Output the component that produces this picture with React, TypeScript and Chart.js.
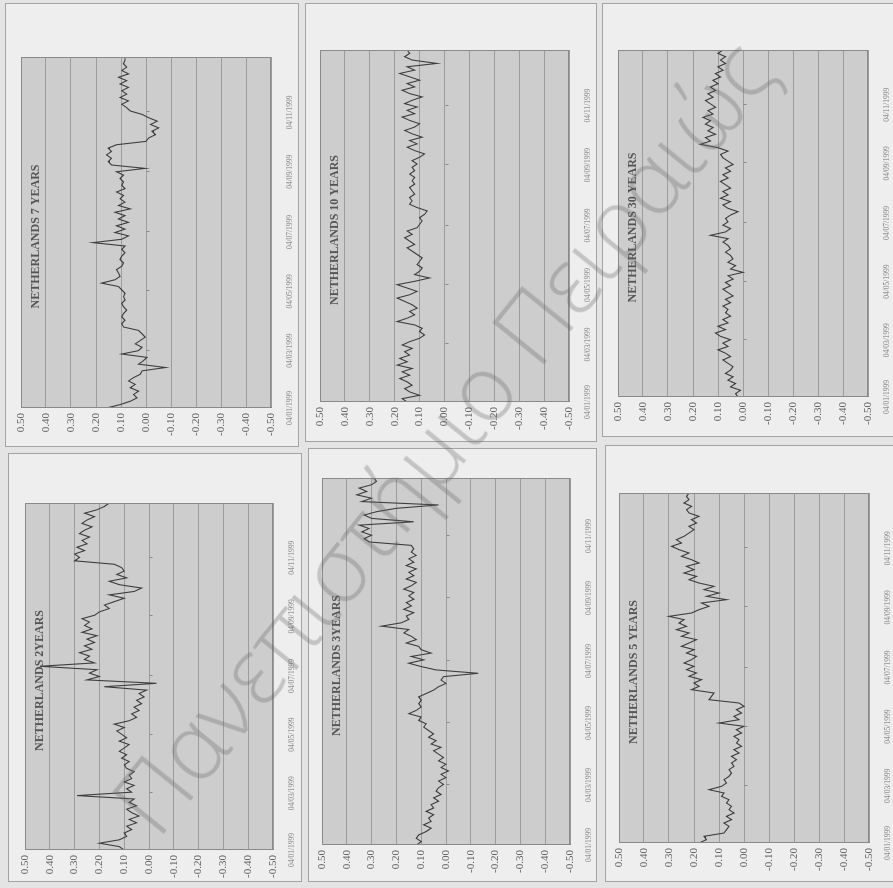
import React, { useEffect, useRef } from 'react';
import { Chart, registerables } from 'chart.js';

Chart.register(...registerables);

// ---------- axis data ----------
const TICK_DAYS = [0, 59, 120, 181, 243, 304]; // days after 04/01/1999
const TICK_LABELS = ['04/01/1999', '04/03/1999', '04/05/1999', '04/07/1999', '04/09/1999', '04/11/1999'];
const SPAN_DAYS = 361; // 04/01/1999 .. 31/12/1999
const Y_MIN = -0.5;
const Y_MAX = 0.5;
const Y_STEP = 0.1;

// ---------- series (spread, in time order) ----------
const NL_7Y = [
  0.158, 0.104, 0.063, 0.036, 0.05, 0.03, 0.063, 0.043, 0.07, 0.05,
  0.023, 0.016, -0.078, 0.03, 0.01, -0.004, 0.097, 0.03, 0.016, 0.043,
  0.023, 0.003, 0.016, 0.03, 0.09, 0.097, 0.084, 0.097, 0.09, 0.077,
  0.09, 0.097, 0.084, 0.09, 0.084, 0.097, 0.11, 0.178, 0.124, 0.104,
  0.11, 0.118, 0.097, 0.09, 0.104, 0.097, 0.084, 0.097, 0.084, 0.212,
  0.097, 0.07, 0.124, 0.084, 0.118, 0.07, 0.11, 0.084, 0.124, 0.063,
  0.11, 0.084, 0.104, 0.09, 0.118, 0.084, 0.097, 0.09, 0.104, 0.09,
  0.118, 0.003, 0.138, 0.151, 0.138, 0.158, 0.138, 0.151, 0.118, 0.0,
  -0.01, -0.038, -0.024, -0.051, -0.018, -0.045, -0.011, 0.016, 0.063, 0.077,
  0.097, 0.07, 0.104, 0.077, 0.097, 0.07, 0.104, 0.077, 0.11, 0.07,
  0.097, 0.077, 0.09, 0.084, 0.084,
];

const NL_10Y = [
  0.15, 0.17, 0.10, 0.14, 0.16, 0.13, 0.15, 0.18, 0.14, 0.17,
  0.13, 0.19, 0.15, 0.18, 0.14, 0.16, 0.13, 0.17, 0.14, 0.10,
  0.08, 0.10, 0.09, 0.12, 0.19, 0.15, 0.12, 0.14, 0.11, 0.13,
  0.16, 0.19, 0.14, 0.11, 0.15, 0.19, 0.12, 0.06, 0.12, 0.10,
  0.09, 0.11, 0.10, 0.09, 0.11, 0.13, 0.15, 0.12, 0.14, 0.16,
  0.13, 0.15, 0.11, 0.10, 0.09, 0.10, 0.08, 0.07, 0.11, 0.14,
  0.13, 0.14, 0.12, 0.13, 0.14, 0.12, 0.13, 0.12, 0.14, 0.12,
  0.13, 0.11, 0.13, 0.10, 0.08, 0.12, 0.15, 0.11, 0.14, 0.09,
  0.13, 0.16, 0.12, 0.10, 0.14, 0.17, 0.12, 0.15, 0.11, 0.16,
  0.13, 0.09, 0.14, 0.17, 0.12, 0.15, 0.10, 0.14, 0.18, 0.12,
  0.15, 0.03, 0.13, 0.16, 0.14, 0.15,
];

const NL_30Y = [
  0.02, 0.03, 0.01, 0.05, 0.03, 0.06, 0.04, 0.07, 0.05, 0.04,
  0.06, 0.08, 0.05, 0.07, 0.10, 0.06, 0.08, 0.05, 0.09, 0.11,
  0.07, 0.10, 0.06, 0.08, 0.05, 0.07, 0.06, 0.08, 0.05, 0.07,
  0.04, 0.06, 0.08, 0.05, 0.07, 0.04, 0.06, 0.00, 0.05, 0.03,
  0.06, 0.04, 0.05, 0.07, 0.05, 0.06, 0.08, 0.06, 0.13, 0.07,
  0.05, 0.08, 0.06, 0.07, 0.05, 0.02, 0.06, 0.08, 0.05, 0.09,
  0.06, 0.08, 0.05, 0.07, 0.09, 0.06, 0.08, 0.05, 0.07, 0.04,
  0.06, 0.08, 0.09, 0.06, 0.10, 0.17, 0.13, 0.15, 0.11, 0.14,
  0.12, 0.15, 0.13, 0.16, 0.12, 0.14, 0.11, 0.13, 0.15, 0.12,
  0.14, 0.11, 0.13, 0.10, 0.12, 0.09, 0.11, 0.08, 0.10, 0.07,
  0.09, 0.07, 0.10, 0.08,
];

const NL_2Y = [
  0.10, 0.12, 0.20, 0.12, 0.09, 0.10, 0.07, 0.09, 0.05, 0.08,
  0.04, 0.07, 0.09, 0.05, 0.08, 0.06, 0.29, 0.07, 0.09, 0.06,
  0.10, 0.07, 0.08, 0.06, 0.09, 0.10, 0.08, 0.11, 0.09, 0.12,
  0.10, 0.08, 0.12, 0.09, 0.11, 0.13, 0.10, 0.14, 0.08, 0.05,
  0.07, 0.04, 0.06, 0.03, 0.05, 0.02, 0.04, 0.01, 0.18, -0.03,
  0.25, 0.20, 0.24, 0.21, 0.44, 0.22, 0.26, 0.24, 0.28, 0.23,
  0.26, 0.22, 0.25, 0.21, 0.27, 0.23, 0.26, 0.24, 0.27, 0.22,
  0.20, 0.16, 0.18, 0.14, 0.10, 0.16, 0.06, 0.03, 0.12, 0.16,
  0.09, 0.13, 0.10, 0.11, 0.14, 0.30, 0.28, 0.30, 0.26, 0.29,
  0.25, 0.27, 0.24, 0.28, 0.26, 0.23, 0.27, 0.25, 0.22, 0.26,
  0.21, 0.18, 0.16,
];

const NL_3Y = [
  0.12, 0.10, 0.12, 0.11, 0.08, 0.06, 0.09, 0.06, 0.07, 0.05,
  0.08, 0.05, 0.06, 0.03, 0.05, 0.02, 0.04, 0.03, 0.01, 0.03,
  0.00, 0.02, -0.01, 0.02, 0.00, 0.03, 0.01, 0.03, 0.05, 0.02,
  0.06, 0.04, 0.07, 0.05, 0.07, 0.09, 0.08, 0.11, 0.10, 0.15,
  0.12, 0.10, 0.11, 0.10, 0.11, 0.08, 0.05, 0.03, 0.00, 0.02,
  0.01, -0.13, 0.04, 0.10, 0.15, 0.09, 0.14, 0.06, 0.10, 0.11,
  0.16, 0.12, 0.14, 0.17, 0.15, 0.26, 0.18, 0.15, 0.16, 0.13,
  0.17, 0.14, 0.16, 0.13, 0.15, 0.13, 0.17, 0.14, 0.12, 0.16,
  0.13, 0.15, 0.12, 0.16, 0.13, 0.15, 0.12, 0.14, 0.13, 0.14,
  0.31, 0.33, 0.30, 0.34, 0.31, 0.35, 0.13, 0.30, 0.33, 0.28,
  0.20, 0.03, 0.34, 0.30, 0.36, 0.32, 0.35, 0.30, 0.28, 0.29,
];

const NL_5Y = [
  0.18, 0.15, 0.16, 0.08, 0.07, 0.06, 0.08, 0.05, 0.07, 0.04,
  0.06, 0.05, 0.07, 0.06, 0.09, 0.08, 0.14, 0.09, 0.07, 0.08,
  0.06, 0.05, 0.06, 0.04, 0.05, 0.03, 0.05, 0.02, 0.04, 0.01,
  0.03, 0.02, 0.04, 0.01, 0.03, 0.00, 0.10, 0.02, 0.04, 0.01,
  0.03, 0.00, 0.02, 0.14, 0.13, 0.12, 0.21, 0.18, 0.20, 0.17,
  0.22, 0.19, 0.23, 0.20, 0.24, 0.21, 0.19, 0.23, 0.20, 0.25,
  0.22, 0.19, 0.25, 0.22, 0.27, 0.23, 0.26, 0.24, 0.30, 0.21,
  0.18, 0.14, 0.17, 0.07, 0.15, 0.10, 0.16, 0.12, 0.18, 0.22,
  0.19, 0.24, 0.20, 0.23, 0.18, 0.21, 0.25, 0.22, 0.26, 0.29,
  0.25, 0.27, 0.24, 0.22, 0.20, 0.22, 0.19, 0.21, 0.18, 0.22,
  0.23, 0.21, 0.24, 0.22, 0.23, 0.22,
];

// ---------- panel layout (on-screen, as photographed) ----------
type PanelCfg = { title: string; data: number[]; box: number[]; plot: number[] };
const PANELS: PanelCfg[] = [
  { title: 'NETHERLANDS 7 YEARS', data: NL_7Y, box: [5, 3, 294, 444], plot: [21, 57, 271, 408] },
  { title: 'NETHERLANDS 10 YEARS', data: NL_10Y, box: [305, 3, 292, 439], plot: [320, 50, 569, 402] },
  { title: 'NETHERLANDS 30 YEARS', data: NL_30Y, box: [602, 3, 300, 434], plot: [618, 50, 868, 397] },
  { title: 'NETHERLANDS 2YEARS', data: NL_2Y, box: [8, 453, 294, 429], plot: [25, 503, 273, 850] },
  { title: 'NETHERLANDS 3YEARS', data: NL_3Y, box: [308, 448, 289, 434], plot: [322, 478, 570, 845] },
  { title: 'NETHERLANDS 5 YEARS', data: NL_5Y, box: [605, 445, 295, 437], plot: [619, 493, 869, 843] },
];

const PLOT_BG = '#cdcdcd';
const PANEL_BG = '#eeeeee';
const PAGE_BG = '#e4e4e4';

function makeDecor(title: string) {
  return {
    id: 'decor',
    beforeDraw(chart: any) {
      const { ctx, chartArea: a } = chart;
      ctx.save();
      ctx.fillStyle = PLOT_BG;
      ctx.fillRect(a.left, a.top, a.right - a.left, a.bottom - a.top);
      ctx.restore();
    },
    afterDraw(chart: any) {
      const { ctx, chartArea: a, scales } = chart;
      ctx.save();
      ctx.strokeStyle = '#8a8a8a';
      ctx.lineWidth = 1;
      ctx.strokeRect(a.left + 0.5, a.top + 0.5, a.right - a.left - 1, a.bottom - a.top - 1);
      // category axis crossing at 0.00 with small tick marks
      const y0 = Math.round(scales.y.getPixelForValue(0)) + 0.5;
      ctx.strokeStyle = '#8a8a8a';
      ctx.beginPath();
      for (const d of TICK_DAYS) {
        const x = Math.round(scales.x.getPixelForValue(d)) + 0.5;
        ctx.moveTo(x, y0);
        ctx.lineTo(x, y0 + 3);
      }
      ctx.stroke();
      // title laid over the plot area
      ctx.fillStyle = '#555555';
      ctx.font = 'bold 12px "Liberation Serif", serif';
      ctx.textAlign = 'center';
      ctx.textBaseline = 'middle';
      ctx.fillText(title, (a.left + a.right) / 2 - 4, a.top + 15);
      ctx.restore();
    },
  };
}

function Panel({ cfg }: { cfg: PanelCfg }) {
  const ref = useRef<HTMLCanvasElement>(null);
  const [bx, by, bw, bh] = cfg.box;
  const [px0, py0, px1, py1] = cfg.plot;
  const L = bx + 1;
  const T = by + 1;
  const W = bh - 2; // unrotated canvas width
  const H = bw - 2; // unrotated canvas height
  const caLeft = T + W - py1;
  const caRight = T + W - py0;
  const caTop = px0 - L;
  const caBottom = px1 - L;

  useEffect(() => {
    const n = cfg.data.length;
    const points = cfg.data.map((v, i) => ({ x: (i * SPAN_DAYS) / (n - 1), y: v }));
    const chart = new Chart(ref.current as HTMLCanvasElement, {
      type: 'line',
      data: {
        datasets: [
          {
            data: points,
            borderColor: '#3e3e3e',
            borderWidth: 1.1,
            pointRadius: 0,
            tension: 0,
            fill: false,
          },
        ],
      },
      options: {
        animation: false,
        responsive: false,
        maintainAspectRatio: false,
        layout: { padding: { left: 0, top: caTop, right: W - caRight, bottom: 0 } },
        plugins: { legend: { display: false }, tooltip: { enabled: false }, title: { display: false } },
        scales: {
          x: {
            type: 'linear',
            min: 0,
            max: SPAN_DAYS,
            grid: { display: false },
            border: { display: false },
            afterBuildTicks: (s: any) => {
              s.ticks = TICK_DAYS.map((v) => ({ value: v }));
            },
            afterFit: (s: any) => {
              s.height = H - caBottom;
            },
            ticks: {
              autoSkip: false,
              maxRotation: 0,
              minRotation: 0,
              padding: 7,
              color: '#858585',
              font: { family: '"Liberation Serif", serif', size: 7.5 },
              callback: (_v: any, i: number) => TICK_LABELS[i] ?? '',
            },
          },
          y: {
            min: Y_MIN,
            max: Y_MAX,
            grid: { color: '#9c9c9c', lineWidth: 1, drawTicks: false },
            border: { color: '#7c7c7c' },
            afterFit: (s: any) => {
              s.width = caLeft;
            },
            ticks: {
              stepSize: Y_STEP,
              padding: 5,
              color: '#5e5e5e',
              font: { family: '"Liberation Serif", serif', size: 11 },
              callback: (v: any) => {
                const n2 = Number(v);
                return Math.abs(n2) < 1e-9 ? '0.00' : n2.toFixed(2);
              },
            },
          },
        },
      },
      plugins: [makeDecor(cfg.title)],
    });
    return () => chart.destroy();
  }, []);

  return (
    <div
      style={{
        position: 'absolute',
        left: bx,
        top: by,
        width: bw,
        height: bh,
        boxSizing: 'border-box',
        border: '1px solid #a3a3a3',
        background: PANEL_BG,
        overflow: 'hidden',
      }}
    >
      <div
        style={{
          position: 'absolute',
          left: 0,
          top: 0,
          width: W,
          height: H,
          transformOrigin: '0 0',
          transform: `translateY(${W}px) rotate(-90deg)`,
        }}
      >
        <canvas ref={ref} width={W} height={H} style={{ display: 'block', width: W, height: H }} />
      </div>
    </div>
  );
}

export default function App() {
  return (
    <div
      style={{
        position: 'absolute',
        left: 0,
        top: 0,
        width: 893,
        height: 888,
        background: PAGE_BG,
        overflow: 'hidden',
      }}
    >
      {PANELS.map((p) => (
        <Panel key={p.title} cfg={p} />
      ))}
      <div
        style={{
          position: 'absolute',
          left: 95,
          top: 790,
          transformOrigin: '0 0',
          transform: 'rotate(-51deg)',
          whiteSpace: 'nowrap',
          fontFamily: '"Open Sans", sans-serif',
          fontWeight: 300,
          fontSize: 92,
          lineHeight: 1,
          color: 'rgba(95,95,95,0.3)',
          pointerEvents: 'none',
        }}
      >
        Πανεπιστήμιο Πειραιώς
      </div>
    </div>
  );
}
